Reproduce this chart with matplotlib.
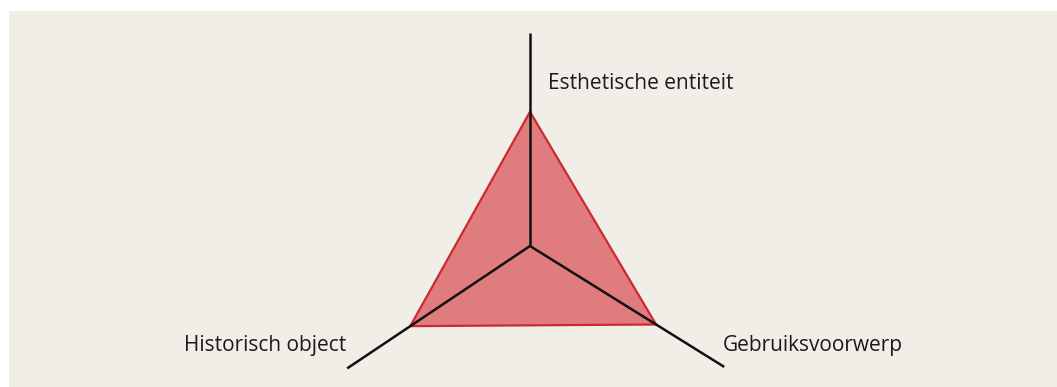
import numpy as np
import matplotlib
matplotlib.use('Agg')
import matplotlib.pyplot as plt
from matplotlib.patches import Rectangle

# Three dimensions of the object, one per spoke
dimensions = ['Esthetische entiteit', 'Historisch object', 'Gebruiksvoorwerp']
scores = [0.61, 0.655, 0.675]

# layout of the spokes (degrees, length)
angles = np.radians([90, 213.8, 328.1])
spoke_len = [0.97, 1.0, 1.04]

plt.rcParams['font.family'] = ['Open Sans', 'DejaVu Sans']

fig = plt.figure(figsize=(10.57, 3.87), dpi=100, facecolor='white')
ax = fig.add_axes([0, 0, 1, 1])
ax.set_facecolor('none')
scale = 220.0
cx, cy = 530, 246
ax.set_xlim(-cx / scale, (1057 - cx) / scale)
ax.set_ylim(-(387 - cy) / scale, cy / scale)
ax.axis('off')

# beige panel behind the diagram (white strip on top and left)
ax.add_patch(Rectangle((9 / 1057, 0), 1, (387 - 11) / 387,
                       transform=ax.transAxes, facecolor='#f1eee8',
                       edgecolor='none', zorder=0))

# filled triangle
px = np.array(scores) * np.cos(angles)
py = np.array(scores) * np.sin(angles)
ax.fill(px, py, facecolor='#e07b7e', edgecolor='#cc2a30', linewidth=1.6, zorder=2)

# spokes
for a, l in zip(angles, spoke_len):
    ax.plot([0, l * np.cos(a)], [0, l * np.sin(a)], color='#111111',
            linewidth=1.8, solid_capstyle='butt', zorder=3)

# labels
ax.text(0.082, 0.74, dimensions[0], fontsize=15, color='#1a1a1a',
        ha='left', va='center')
ax.text(-0.836, -0.45, dimensions[1], fontsize=15, color='#1a1a1a',
        ha='right', va='center')
ax.text(0.877, -0.45, dimensions[2], fontsize=15, color='#1a1a1a',
        ha='left', va='center')

plt.savefig('out.png', dpi=100, facecolor=fig.get_facecolor())
